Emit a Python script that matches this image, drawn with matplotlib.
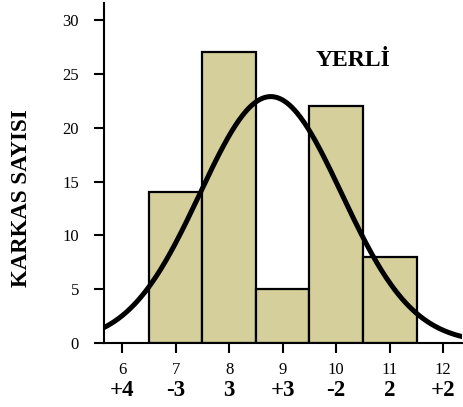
import numpy as np
import matplotlib
matplotlib.use("Agg")
import matplotlib.pyplot as plt
from matplotlib.transforms import blended_transform_factory

# Data
classes = [7, 8, 9, 10, 11]
counts = [14, 27, 5, 22, 8]
xticks = [6, 7, 8, 9, 10, 11, 12]
second_row = ["+4", "-3", "3", "+3", "-2", "2", "+2"]
yticks = [0, 5, 10, 15, 20, 25, 30]
title = "YERLİ"
ylabel = "KARKAS SAYISI"

plt.rcParams['font.family'] = ['Liberation Serif', 'DejaVu Serif']

fig = plt.figure(figsize=(4.64, 4.07), dpi=100)
ax = fig.add_axes([104/464, 1-343/407, (462-104)/464, (343-3)/407])

ax.bar(classes, counts, width=1.0, color='#D4CF9B', edgecolor='black', linewidth=1.6, zorder=2)

# fitted normal curve
c = np.array(classes, float); n = np.array(counts, float)
N = n.sum()
mu = (c*n).sum()/N
sd = np.sqrt(((c-mu)**2*n).sum()/N)
xx = np.linspace(5.66, 12.4, 300)
yy = N/(sd*np.sqrt(2*np.pi))*np.exp(-0.5*((xx-mu)/sd)**2)
ax.plot(xx, yy, color='black', lw=3.6, zorder=3, solid_capstyle='butt')

ax.set_xlim(5.66, 12.35)
ax.set_ylim(0, 31.6)
ax.set_xticks(xticks)
ax.set_xticklabels([str(v) for v in xticks], fontsize=12)
ax.set_yticks(yticks)
ax.set_yticklabels([str(v) for v in yticks], fontsize=12)
ax.tick_params(axis='both', direction='out', length=7, width=1.5)
ax.tick_params(axis='x', pad=7)
ax.tick_params(axis='y', pad=11)
for s in ['top', 'right']:
    ax.spines[s].set_visible(False)
for s in ['left', 'bottom']:
    ax.spines[s].set_linewidth(1.5)

trans = blended_transform_factory(ax.transData, ax.transAxes)
for xv, lab in zip(xticks, second_row):
    ax.text(xv, (343-390)/340, lab, transform=trans, ha='center', va='center',
            fontsize=16.5, fontweight='bold')

ax.text(10.32, 26.3, title, ha='center', va='center', fontsize=17, fontweight='bold')
fig.text(22/464, 1-198/407, ylabel, rotation=90, ha='center', va='center',
         fontsize=16.5, fontweight='bold')

fig.savefig('out.png', dpi=100)
